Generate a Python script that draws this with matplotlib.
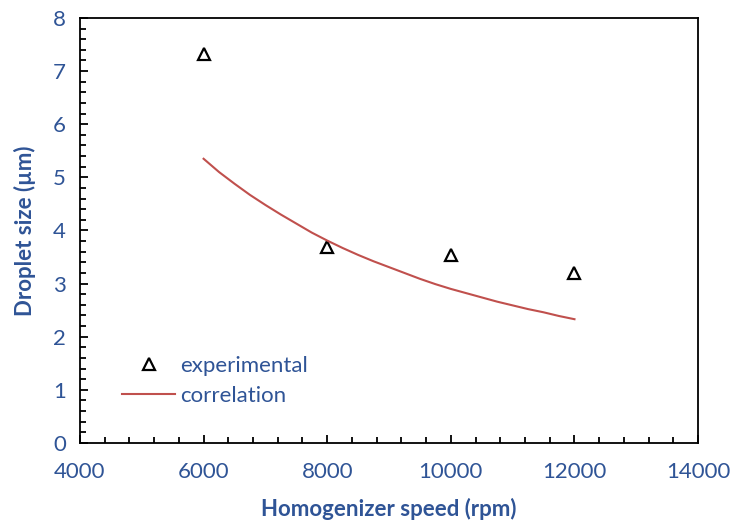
import matplotlib.pyplot as plt
from matplotlib.ticker import MultipleLocator

plt.rcParams["font.family"] = ["Lato", "DejaVu Sans"]

# experimental droplet sizes
speed_exp = [6000, 8000, 10000, 12000]
size_exp = [7.33, 3.69, 3.54, 3.20]

# correlation curve
speed_corr = [6000, 6250, 6500, 6750, 7000, 7250, 7500, 7750, 8000, 8250,
              8500, 8750, 9000, 9250, 9500, 9750, 10000, 10250, 10500,
              10750, 11000, 11250, 11500, 11750, 12000]
size_corr = [5.35, 5.10, 4.88, 4.67, 4.48, 4.30, 4.13, 3.96, 3.81, 3.67,
             3.54, 3.42, 3.31, 3.20, 3.09, 2.99, 2.90, 2.82, 2.74,
             2.66, 2.59, 2.52, 2.46, 2.39, 2.33]

blue = "#2F5496"
red = "#C0504D"

fig = plt.figure(figsize=(7.31, 5.23), dpi=100)
ax = fig.add_axes([0.1094, 0.153, 0.8456, 0.8126])

ax.plot(speed_exp, size_exp, linestyle="none", marker="^", markersize=8,
        markerfacecolor="white", markeredgecolor="black", markeredgewidth=1.6,
        label="experimental")
ax.plot(speed_corr, size_corr, color=red, lw=1.5, label="correlation")

ax.set_xlim(4000, 14000)
ax.set_ylim(0, 8)
ax.xaxis.set_major_locator(MultipleLocator(2000))
ax.xaxis.set_minor_locator(MultipleLocator(400))
ax.yaxis.set_major_locator(MultipleLocator(1))
ax.yaxis.set_minor_locator(MultipleLocator(0.2))

for s in ax.spines.values():
    s.set_linewidth(1.3)
ax.tick_params(which="both", direction="in", width=1.3, colors="black",
               labelcolor=blue, labelsize=16)
ax.tick_params(which="major", length=6)
ax.tick_params(which="minor", length=4)
ax.tick_params(axis="x", pad=14)
ax.tick_params(axis="y", pad=10)

ax.set_xlabel("Homogenizer speed (rpm)", color=blue, fontsize=16,
              fontweight="bold", labelpad=11)
ax.set_ylabel("Droplet size (µm)", color=blue, fontsize=16,
              fontweight="bold", labelpad=12)

leg = ax.legend(frameon=False, loc="upper left", bbox_to_anchor=(0.068, 0.205),
                borderaxespad=0, borderpad=0, handlelength=2.4,
                handletextpad=0.2, labelspacing=0.45, fontsize=16)
for t in leg.get_texts():
    t.set_color(blue)

fig.savefig("out.png", dpi=100)
